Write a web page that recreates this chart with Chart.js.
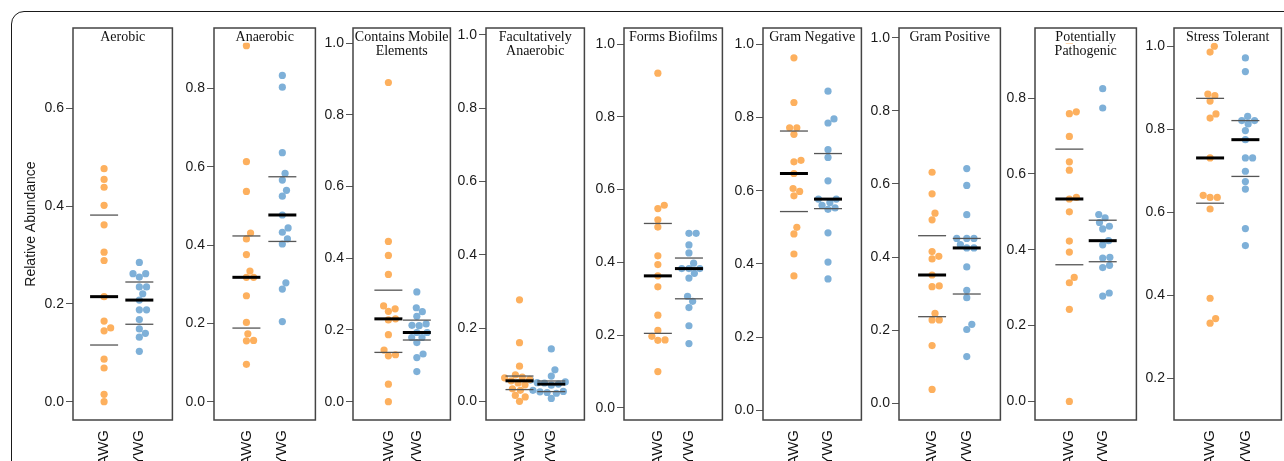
<!DOCTYPE html>
<html><head><meta charset="utf-8">
<script src="https://cdn.jsdelivr.net/npm/chart.js@4.4.1/dist/chart.umd.min.js"></script>
<style>
html,body{margin:0;padding:0;background:#fff;width:1284px;height:461px;overflow:hidden;position:relative}
#frame{position:absolute;left:11px;top:11px;width:1400px;height:600px;border:1.3px solid #1a1a1a;border-radius:13px;box-sizing:border-box}
canvas{position:absolute;top:0}
</style></head><body>
<div id="frame"></div>
<div id="wrap"></div>
<script>
// ---------------- DATA ----------------
const categories = ['AWG', 'YWG'];
const traitTitles = [
  ['Aerobic'], ['Anaerobic'], ['Contains Mobile', 'Elements'], ['Facultatively', 'Anaerobic'],
  ['Forms Biofilms'], ['Gram Negative'], ['Gram Positive'], ['Potentially', 'Pathogenic'], ['Stress Tolerant']
];
const aerobicAWG = [0.477, 0.455, 0.439, 0.402, 0.362, 0.306, 0.289, 0.215, 0.165, 0.151, 0.145, 0.087, 0.069, 0.015, 0.0];
const aerobicYWG = [0.285, 0.262, 0.262, 0.255, 0.235, 0.235, 0.221, 0.208, 0.188, 0.188, 0.168, 0.149, 0.140, 0.132, 0.103];
const anaerobicAWG = [0.909, 0.613, 0.537, 0.431, 0.416, 0.376, 0.334, 0.318, 0.318, 0.271, 0.203, 0.174, 0.157, 0.156, 0.096];
const anaerobicYWG = [0.833, 0.803, 0.636, 0.583, 0.566, 0.540, 0.525, 0.477, 0.444, 0.433, 0.416, 0.403, 0.304, 0.288, 0.205];
const mobileAWG = [0.890, 0.447, 0.408, 0.355, 0.267, 0.259, 0.252, 0.231, 0.228, 0.187, 0.144, 0.131, 0.128, 0.049, 0.0];
const mobileYWG = [0.306, 0.262, 0.251, 0.238, 0.217, 0.213, 0.212, 0.193, 0.193, 0.179, 0.179, 0.165, 0.133, 0.123, 0.084];
const facultAWG = [0.277, 0.160, 0.096, 0.072, 0.066, 0.064, 0.060, 0.056, 0.050, 0.045, 0.034, 0.030, 0.016, 0.012, 0.0];
const facultYWG = [0.143, 0.086, 0.069, 0.058, 0.053, 0.051, 0.050, 0.047, 0.044, 0.030, 0.027, 0.026, 0.024, 0.022, 0.008];
const biofilmAWG = [0.920, 0.557, 0.548, 0.517, 0.497, 0.418, 0.394, 0.363, 0.333, 0.255, 0.213, 0.197, 0.187, 0.186, 0.100];
const biofilmYWG = [0.480, 0.480, 0.448, 0.426, 0.398, 0.383, 0.383, 0.383, 0.370, 0.357, 0.307, 0.293, 0.276, 0.226, 0.177];
const gramNegAWG = [0.963, 0.841, 0.772, 0.772, 0.754, 0.683, 0.679, 0.647, 0.606, 0.598, 0.586, 0.500, 0.482, 0.427, 0.367];
const gramNegYWG = [0.872, 0.796, 0.785, 0.712, 0.691, 0.627, 0.577, 0.577, 0.568, 0.560, 0.553, 0.549, 0.485, 0.405, 0.359];
const gramPosAWG = [0.632, 0.573, 0.520, 0.502, 0.415, 0.402, 0.395, 0.351, 0.321, 0.319, 0.246, 0.228, 0.228, 0.158, 0.038];
const gramPosYWG = [0.642, 0.596, 0.516, 0.451, 0.451, 0.451, 0.434, 0.425, 0.425, 0.373, 0.309, 0.289, 0.216, 0.202, 0.128];
const pathoAWG = [0.944, 0.764, 0.759, 0.699, 0.632, 0.610, 0.538, 0.534, 0.500, 0.423, 0.394, 0.327, 0.313, 0.243, 0.0];
const pathoYWG = [0.825, 0.774, 0.493, 0.484, 0.472, 0.462, 0.455, 0.424, 0.413, 0.380, 0.378, 0.359, 0.353, 0.286, 0.278];
const stressAWG = [1.0, 0.986, 0.885, 0.881, 0.868, 0.837, 0.827, 0.731, 0.641, 0.636, 0.636, 0.608, 0.393, 0.344, 0.333];
const stressYWG = [0.972, 0.939, 0.831, 0.821, 0.821, 0.813, 0.797, 0.775, 0.731, 0.731, 0.699, 0.674, 0.656, 0.561, 0.520];
const ticksTo06 = [0, 0.2, 0.4, 0.6];
const ticksTo08 = [0, 0.2, 0.4, 0.6, 0.8];
const ticksTo10 = [0, 0.2, 0.4, 0.6, 0.8, 1.0];
const ticksFrom02 = [0.2, 0.4, 0.6, 0.8, 1.0];

const seriesAWG = [aerobicAWG, anaerobicAWG, mobileAWG, facultAWG, biofilmAWG, gramNegAWG, gramPosAWG, pathoAWG, stressAWG];
const seriesYWG = [aerobicYWG, anaerobicYWG, mobileYWG, facultYWG, biofilmYWG, gramNegYWG, gramPosYWG, pathoYWG, stressYWG];
const panelTicks = [ticksTo06, ticksTo08, ticksTo10, ticksTo10, ticksTo10, ticksTo10, ticksTo10, ticksTo08, ticksFrom02];

// ---------------- LAYOUT ----------------
const panelLayout = [
  {boxL: 73,   boxR: 174,  yMin: -0.0375, yMax: 0.765,  xMin: 0.118,  xMax: 2.938},
  {boxL: 214,  boxR: 317,  yMin: -0.046,  yMax: 0.954,  xMin: 0.098,  xMax: 2.92},
  {boxL: 353,  boxR: 452,  yMin: -0.051,  yMax: 1.042,  xMin: -0.244, xMax: 3.18},
  {boxL: 486,  boxR: 586,  yMin: -0.051,  yMax: 1.019,  xMin: -0.053, xMax: 3.04},
  {boxL: 624,  boxR: 724,  yMin: -0.033,  yMax: 1.044,  xMin: -0.089, xMax: 3.076},
  {boxL: 763,  boxR: 863,  yMin: -0.0265, yMax: 1.0445, xMin: 0.092,  xMax: 2.98},
  {boxL: 899,  boxR: 1002, yMin: -0.0456, yMax: 1.0266, xMin: 0.046,  xMax: 2.97},
  {boxL: 1035, boxR: 1138, yMin: -0.049,  yMax: 0.985,  xMin: -0.03,  xMax: 3.01},
  {boxL: 1174, boxR: 1283, yMin: 0.0998,  yMax: 1.044,  xMin: -0.022, xMax: 3.02}
];
const COLORS = ['#FDB05E', '#7EB0D8'];
const TOP = 28, BOTTOM = 420, H = 461, DOT_R = 3.6, DOT_D = 7.2;

Chart.defaults.font.family = '"Liberation Sans", Arial, sans-serif';
Chart.defaults.color = '#222';

function quant(sorted, p) {
  const h = (sorted.length - 1) * p, lo = Math.floor(h);
  const hi = Math.min(lo + 1, sorted.length - 1);
  return sorted[lo] + (h - lo) * (sorted[hi] - sorted[lo]);
}
function stats(vals) {
  const s = vals.slice().sort((a, b) => a - b);
  return {q1: quant(s, 0.25), med: quant(s, 0.5), q3: quant(s, 0.75)};
}
function swarm(vals, yScale, pxPerX) {
  const order = vals.map((v, i) => i).sort((a, b) => vals[a] - vals[b] || a - b);
  const placed = [], offs = new Array(vals.length);
  order.forEach(i => {
    const py = yScale.getPixelForValue(vals[i]);
    const cands = [0];
    placed.forEach(p => {
      const dy = Math.abs(p.y - py);
      if (dy < DOT_D) { const dx = Math.sqrt(DOT_D * DOT_D - dy * dy); cands.push(p.x + dx, p.x - dx); }
    });
    const ok = cands.filter(c => placed.every(p => (p.x - c) ** 2 + (p.y - py) ** 2 >= DOT_D * DOT_D - 0.05));
    ok.sort((a, b) => (Math.abs(a) - Math.abs(b)) || (b - a));
    const cx = ok[0];
    placed.push({x: cx, y: py});
    offs[i] = cx / pxPerX;
  });
  return offs;
}

const panelInfo = [];
const decor = {
  id: 'decor',
  afterDatasetsDraw(chart) {
    const info = panelInfo[chart.$idx];
    if (!info) return;
    const {ctx, chartArea: a, scales: {x, y}} = chart;
    ctx.save();
    [info.awg, info.ywg].forEach((vals, k) => {
      const s = stats(vals);
      const cx = x.getPixelForValue(k + 1);
      const line = (v, w, c) => {
        const py = y.getPixelForValue(v);
        ctx.beginPath(); ctx.strokeStyle = c; ctx.lineWidth = w;
        ctx.moveTo(cx - 14, py); ctx.lineTo(cx + 14, py); ctx.stroke();
      };
      line(s.q1, 1.3, '#555');
      line(s.q3, 1.3, '#555');
      line(s.med, 3, '#000');
    });
    ctx.font = '14px "Liberation Serif", "Times New Roman", serif';
    ctx.textAlign = 'center'; ctx.textBaseline = 'alphabetic';
    const tcx = (a.left + a.right) / 2;
    const bases = info.title.length === 1 ? [12.7] : [13, 26.5];
    info.title.forEach((t, j) => {
      const by = a.top + bases[j];
      const w = ctx.measureText(t).width;
      ctx.fillStyle = '#fff';
      ctx.fillRect(tcx - w / 2 - 1, by - 11, w + 2, 13);
      ctx.fillStyle = '#111';
      ctx.fillText(t, tcx, by);
    });
    ctx.strokeStyle = '#444'; ctx.lineWidth = 1.5;
    ctx.strokeRect(a.left, a.top, a.right - a.left, a.bottom - a.top);
    ctx.restore();
  }
};

const wrap = document.getElementById('wrap');
panelLayout.forEach((L, i) => {
  const first = i === 0;
  const padL = first ? 10 : 0;
  const axisW = first ? 50 : 48;
  const canvasLeft = L.boxL - axisW - padL;
  const width = L.boxR - canvasLeft + 2;
  const cv = document.createElement('canvas');
  cv.width = width; cv.height = H;
  cv.style.left = canvasLeft + 'px'; cv.style.width = width + 'px'; cv.style.height = H + 'px';
  wrap.appendChild(cv);
  const awg = seriesAWG[i], ywg = seriesYWG[i];
  const chart = new Chart(cv, {
    type: 'scatter',
    data: {
      datasets: [awg, ywg].map((vals, k) => ({
        label: categories[k],
        data: vals.map(v => ({x: k + 1, y: v})),
        backgroundColor: COLORS[k], borderWidth: 0,
        pointRadius: DOT_R, pointHoverRadius: DOT_R
      }))
    },
    options: {
      responsive: false, animation: false, devicePixelRatio: 1, events: [],
      layout: {padding: {top: TOP, left: padL, right: 2, bottom: 0}},
      plugins: {legend: {display: false}, tooltip: {enabled: false}},
      scales: {
        x: {
          type: 'linear', min: L.xMin, max: L.xMax,
          afterFit: s => { s.height = H - BOTTOM; },
          afterBuildTicks: s => { s.ticks = categories.map((c, k) => ({value: k + 1})); },
          grid: {display: false, drawTicks: false},
          border: {display: false},
          ticks: {
            autoSkip: false, minRotation: 90, maxRotation: 90, padding: 10,
            font: {size: 15}, color: '#111',
            callback: v => categories[Math.round(v) - 1] || ''
          }
        },
        y: {
          type: 'linear', min: L.yMin, max: L.yMax,
          afterFit: s => { s.width = axisW; },
          afterBuildTicks: s => { s.ticks = panelTicks[i].map(v => ({value: v})); },
          grid: {display: true, drawOnChartArea: false, drawTicks: true, tickLength: 7, color: '#555', lineWidth: 1},
          border: {display: false},
          ticks: {padding: 2, font: {size: 14}, color: '#1a1a1a', callback: v => Number(v).toFixed(1)},
          title: first ? {display: true, text: 'Relative Abundance', padding: 0, font: {size: 14}, color: '#1a1a1a'} : {display: false}
        }
      }
    },
    plugins: [decor]
  });
  chart.$idx = i;
  panelInfo[i] = {awg, ywg, title: traitTitles[i]};
  const pxPerX = chart.scales.x.getPixelForValue(2) - chart.scales.x.getPixelForValue(1);
  [awg, ywg].forEach((vals, k) => {
    const offs = swarm(vals, chart.scales.y, pxPerX);
    chart.data.datasets[k].data = vals.map((v, j) => ({x: k + 1 + offs[j], y: v}));
  });
  chart.update('none');
});
</script>
</body></html>
